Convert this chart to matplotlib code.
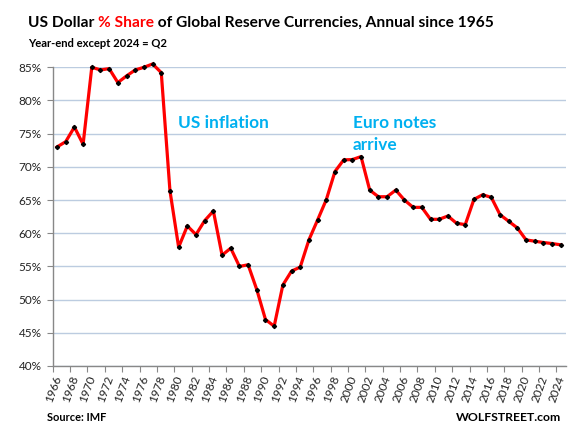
import matplotlib
matplotlib.use("Agg")
import matplotlib.pyplot as plt
import numpy as np

years = list(range(1966, 2025))
usd_share = [73.0, 73.8, 76.0, 73.4, 85.0, 84.6, 84.8, 82.7, 83.7, 84.6,
             85.0, 85.5, 84.2, 66.4, 57.9, 61.1, 59.8, 61.9, 63.35, 56.7,
             57.75, 55.0, 55.25, 51.5, 47.0, 46.0, 52.2, 54.3, 54.9, 59.0,
             62.0, 65.05, 69.3, 71.05, 71.1, 71.55, 66.5, 65.5, 65.5, 66.5,
             65.0, 63.9, 63.9, 62.1, 62.1, 62.6, 61.5, 61.3, 65.1, 65.8,
             65.4, 62.8, 61.8, 60.8, 59.0, 58.8, 58.6, 58.45, 58.25]
tick_years = years[::2]
yticks = [40, 45, 50, 55, 60, 65, 70, 75, 80, 85]

FONT = "Lato"
plt.rcParams['font.family'] = [FONT, 'DejaVu Sans']

fig = plt.figure(figsize=(5.87, 4.33), dpi=100)
W, H = 587, 433
ax = fig.add_axes([52.7 / W, 1 - 366 / H, (566 - 52.7) / W, (366 - 67.3) / H])

ax.plot(years, usd_share, color='#FF0000', lw=2.3, zorder=3, clip_on=False,
        solid_joinstyle='round')
ax.plot(years, usd_share, ls='none', marker='D', ms=2.1, color='black', zorder=4,
        clip_on=False)

ax.set_xlim(years[0] - 0.5, years[-1] + 0.6)
ax.set_ylim(40, 85)
ax.set_yticks(yticks)
ax.set_yticklabels([f"{v}%" for v in yticks], fontsize=8.5, color='#222222')
ax.set_xticks([y - 0.5 for y in tick_years])
ax.set_xticklabels([str(y) for y in tick_years], rotation=70, ha='right',
                   va='top', rotation_mode='anchor', fontsize=8.5, color='#222222')
ax.tick_params(axis='x', length=4, width=0.8, color='#888888', pad=2)
ax.tick_params(axis='y', length=4, width=0.8, color='#888888', pad=4)

ax.grid(axis='y', color='#BCCCE0', lw=1.0)
ax.set_axisbelow(True)
for s in ['top', 'right']:
    ax.spines[s].set_visible(False)
ax.spines['left'].set_color('#888888')
ax.spines['bottom'].set_color('#888888')
ax.spines['left'].set_linewidth(1.0)
ax.spines['bottom'].set_linewidth(1.0)

blue = '#00B0F0'
fig.text(178 / W, 1 - 123 / H, "US inflation", color=blue, fontsize=12.4,
         fontweight='bold', va='center', ha='left')
fig.text(353 / W, 1 - 123 / H, "Euro notes", color=blue, fontsize=12.4,
         fontweight='bold', va='center', ha='left')
fig.text(353 / W, 1 - 145 / H, "arrive", color=blue, fontsize=12.4,
         fontweight='bold', va='center', ha='left')

# Title in pieces
renderer = fig.canvas.get_renderer()
parts = [("US Dollar ", 'black'), ("% Share", '#FF0000'),
         (" of Global Reserve Currencies, Annual since 1965", 'black')]
x = 27.7
for txt, col in parts:
    t = fig.text(x / W, 1 - 27 / H, txt, color=col, fontsize=11.2,
                 fontweight='bold', va='baseline', ha='left')
    bb = t.get_window_extent(renderer)
    x += bb.width

fig.text(27.7 / W, 1 - 47 / H, "Year-end except 2024 = Q2", fontsize=8.1,
         fontweight='bold', va='baseline', ha='left')
fig.text(46.7 / W, 1 - 421 / H, "Source: IMF", fontsize=7.9,
         fontweight='bold', va='baseline', ha='left')
fig.text(561 / W, 1 - 421 / H, "WOLFSTREET.com", fontsize=8.8,
         fontweight='bold', va='baseline', ha='right')

fig.savefig("out.png", dpi=100)
